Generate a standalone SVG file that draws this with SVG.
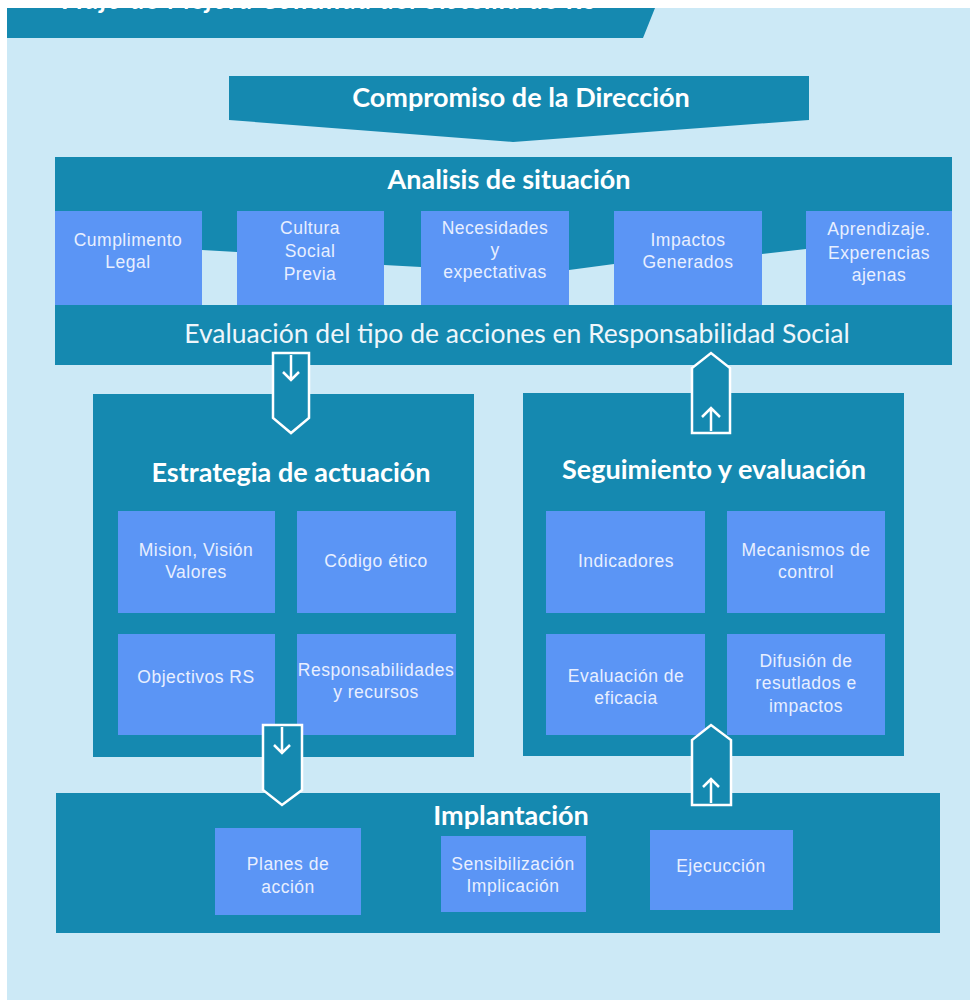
<svg xmlns="http://www.w3.org/2000/svg" width="970" height="1000" viewBox="0 0 970 1000">
<defs>
<style>
.teal{fill:#1589b0}
.box{fill:#5b95f5}
.gap{fill:#cce9f6}
.title{font-family:Lato,"Liberation Sans",sans-serif;font-weight:bold;font-size:27px;fill:#ffffff;text-anchor:middle}
.sub{font-family:Lato,"Liberation Sans",sans-serif;font-size:26.5px;fill:#eef6fb;text-anchor:middle}
.lbl{font-family:"Liberation Sans",Arial,sans-serif;font-size:17.5px;letter-spacing:0.5px;fill:#e8efff;text-anchor:middle}
.arrow{fill:#1589b0;stroke:#ffffff;stroke-width:2.5;stroke-linejoin:miter}
.inner{fill:none;stroke:#ffffff;stroke-width:2.5}
</style>
<clipPath id="bannerClip"><polygon points="7,8 655,8 643,38 7,38"/></clipPath>
</defs>
<rect x="0" y="0" width="970" height="1000" fill="#ffffff"/>
<rect x="7" y="8" width="963" height="992" fill="#cce9f6"/>

<g id="banner">
<polygon class="teal" points="7,8 655,8 643,38 7,38"/>
<text clip-path="url(#bannerClip)" x="62" y="9" font-family="Lato, 'Liberation Sans', sans-serif" font-style="italic" font-weight="bold" font-size="26" fill="#ffffff" textLength="535">Flujo de Mejora Continua del Sistema de RS</text>
</g>

<g id="compromiso">
<polygon class="teal" points="229,76 809,76 809,120 513,142 229,120"/>
<text class="title" x="521" y="107">Compromiso de la Dirección</text>
</g>

<g id="analisis">
<rect class="teal" x="55" y="157" width="897" height="208"/>
<text class="title" x="509" y="189">Analisis de situación</text>
<polygon class="gap" points="202,250 237,252 237,305 202,305"/>
<polygon class="gap" points="384,265 421,267 421,305 384,305"/>
<polygon class="gap" points="569,270 614,264 614,305 569,305"/>
<polygon class="gap" points="762,254 806,249 806,305 762,305"/>
<text class="sub" x="517" y="343">Evaluación del tipo de acciones en Responsabilidad Social</text>
</g>

<g id="cumplimento">
<rect class="box" x="55" y="211" width="147" height="94"/>
<text class="lbl" x="128" y="246">Cumplimento</text>
<text class="lbl" x="128" y="268">Legal</text>
</g>
<g id="cultura">
<rect class="box" x="237" y="211" width="147" height="94"/>
<text class="lbl" x="310" y="234">Cultura</text>
<text class="lbl" x="310" y="257">Social</text>
<text class="lbl" x="310" y="280">Previa</text>
</g>
<g id="necesidades">
<rect class="box" x="421" y="211" width="148" height="94"/>
<text class="lbl" x="495" y="234">Necesidades</text>
<text class="lbl" x="495" y="256">y</text>
<text class="lbl" x="495" y="278">expectativas</text>
</g>
<g id="impactos">
<rect class="box" x="614" y="211" width="148" height="94"/>
<text class="lbl" x="688" y="246">Impactos</text>
<text class="lbl" x="688" y="268">Generados</text>
</g>
<g id="aprendizaje">
<rect class="box" x="806" y="211" width="146" height="94"/>
<text class="lbl" x="879" y="235">Aprendizaje.</text>
<text class="lbl" x="879" y="259">Experencias</text>
<text class="lbl" x="879" y="281">ajenas</text>
</g>

<g id="estrategia">
<rect class="teal" x="93" y="394" width="381" height="363"/>
<text class="title" x="291" y="482">Estrategia de actuación</text>
</g>
<g id="mision">
<rect class="box" x="118" y="511" width="157" height="102"/>
<text class="lbl" x="196" y="556">Mision, Visión</text>
<text class="lbl" x="196" y="578">Valores</text>
</g>
<g id="codigo">
<rect class="box" x="297" y="511" width="159" height="102"/>
<text class="lbl" x="376" y="567">Código ético</text>
</g>
<g id="objectivos">
<rect class="box" x="118" y="634" width="157" height="101"/>
<text class="lbl" x="196" y="683">Objectivos RS</text>
</g>
<g id="responsabilidades">
<rect class="box" x="297" y="634" width="159" height="101"/>
<text class="lbl" x="376" y="676">Responsabilidades</text>
<text class="lbl" x="376" y="698">y recursos</text>
</g>

<g id="seguimiento">
<rect class="teal" x="523" y="393" width="381" height="363"/>
<text class="title" x="714" y="479">Seguimiento y evaluación</text>
</g>
<g id="indicadores">
<rect class="box" x="546" y="511" width="159" height="102"/>
<text class="lbl" x="626" y="567">Indicadores</text>
</g>
<g id="mecanismos">
<rect class="box" x="727" y="511" width="158" height="102"/>
<text class="lbl" x="806" y="556">Mecanismos de</text>
<text class="lbl" x="806" y="578">control</text>
</g>
<g id="eficacia">
<rect class="box" x="546" y="634" width="159" height="101"/>
<text class="lbl" x="626" y="682">Evaluación de</text>
<text class="lbl" x="626" y="704">eficacia</text>
</g>
<g id="difusion">
<rect class="box" x="727" y="634" width="158" height="101"/>
<text class="lbl" x="806" y="667">Difusión de</text>
<text class="lbl" x="806" y="689">resutlados e</text>
<text class="lbl" x="806" y="712">impactos</text>
</g>

<g id="implantacion">
<rect class="teal" x="56" y="793" width="884" height="140"/>
<text class="title" x="511" y="825">Implantación</text>
</g>
<g id="planes">
<rect class="box" x="215" y="828" width="146" height="87"/>
<text class="lbl" x="288" y="870">Planes de</text>
<text class="lbl" x="288" y="893">acción</text>
</g>
<g id="sensibilizacion">
<rect class="box" x="441" y="836" width="145" height="76"/>
<text class="lbl" x="513" y="870">Sensibilización</text>
<text class="lbl" x="513" y="892">Implicación</text>
</g>
<g id="ejecuccion">
<rect class="box" x="650" y="830" width="143" height="80"/>
<text class="lbl" x="721" y="872">Ejecucción</text>
</g>

<g id="connectors">
<path class="arrow" d="M273,353 L309,353 L309,418 L291,433 L273,418 Z"/>
<path class="inner" d="M291,355 V380 M283,372 L291,380 L299,372"/>
<path class="arrow" d="M692,433 L730,433 L730,368 L711,353 L692,368 Z"/>
<path class="inner" d="M711,431 V408 M702,417 L711,408 L720,417"/>
<path class="arrow" d="M263,725 L302,725 L302,790 L282,805 L263,790 Z"/>
<path class="inner" d="M282,727 V753 M274,745 L282,753 L290,745"/>
<path class="arrow" d="M692,805 L731,805 L731,740 L711,725 L692,740 Z"/>
<path class="inner" d="M711,803 V779 M703,787 L711,779 L719,787"/>
</g>
</svg>
